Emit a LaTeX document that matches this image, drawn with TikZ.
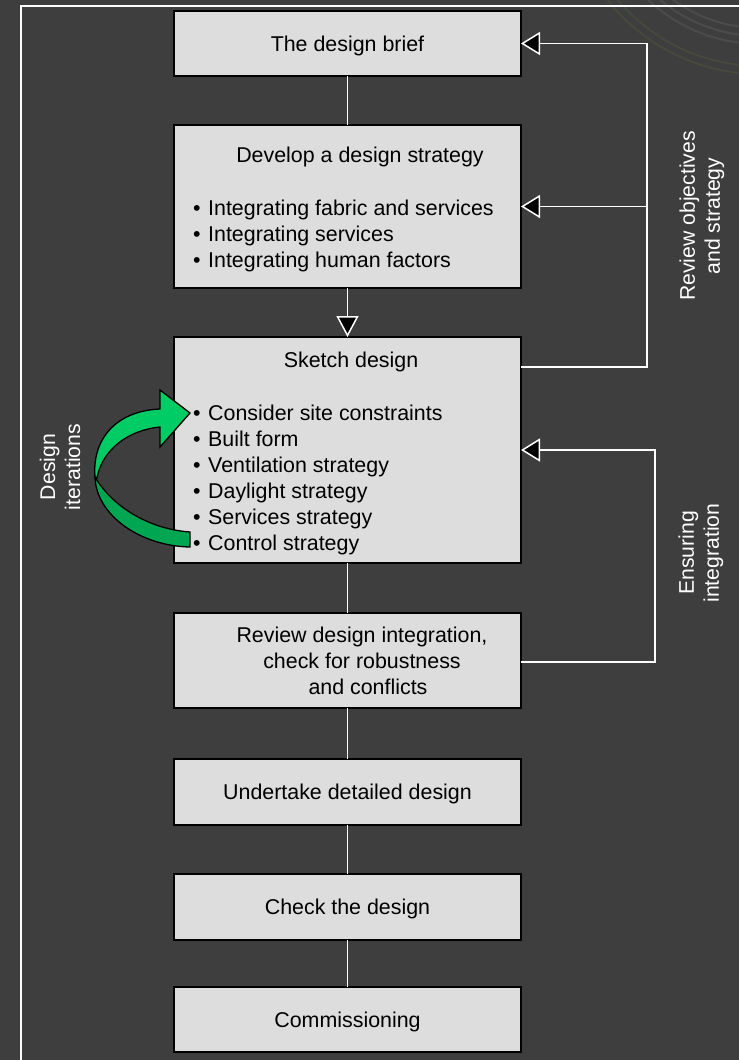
\documentclass[tikz,border=0pt]{standalone}
\usepackage{fontspec}
\setmainfont{Liberation Sans}
\usetikzlibrary{arrows.meta,calc}
\definecolor{bg}{RGB}{62,62,62}
\definecolor{boxfill}{RGB}{221,221,221}
\definecolor{glight}{RGB}{0,204,102}
\definecolor{gdark}{RGB}{0,166,81}
\definecolor{arcgreen}{RGB}{110,140,60}
\newcommand\fsz{\fontsize{21.4}{26}\selectfont}
\newcommand\fszl{\fontsize{21.2}{25}\selectfont}
\begin{document}
\begin{tikzpicture}[x=1pt,y=-1pt,
  box/.style={draw=black,line width=2pt,fill=boxfill,minimum width=347pt,inner sep=0pt,outer sep=0pt,text height=15pt,text depth=0pt,font=\fsz,text=black},
  wline/.style={draw=white,line width=1.5pt},
  tip/.style={-{Triangle[length=19pt,width=23pt,fill=black]}},
  tipdown/.style={-{Triangle[length=21pt,width=22pt,fill=black]}},
  txt/.style={inner sep=0pt,font=\fsz,text=black},
  lbl/.style={inner sep=0pt,font=\fszl,text=white,align=center,rotate=90},
  garrow/.style={draw=black,line width=1.3pt,line join=miter}]
\fill[bg] (0,0) rectangle (739,1060);
\useasboundingbox (0,0) rectangle (739,1060);
% faint decorative arcs
\begin{scope}
  \clip (560,0) rectangle (739,130);
  \foreach \r in {148,156,164} \draw[white,opacity=0.07,line width=2pt] (760,-120) circle[radius=\r pt];
  \foreach \r in {186,194} \draw[arcgreen,opacity=0.18,line width=1.5pt] (760,-120) circle[radius=\r pt];
\end{scope}
% frame
\draw[white,line width=2pt] (21,1061) -- (21,6) -- (740,6);
% boxes
\node[box,minimum height=65pt] (brief) at (347.5,43.5) {The design brief};
\node[box,minimum height=163pt] (develop) at (347.5,206.5) {};
\node[box,minimum height=226pt] (sketch) at (347.5,450) {};
\node[box,minimum height=95pt] (review) at (347.5,660.5) {};
\node[box,minimum height=66pt] (detail) at (347.5,792) {Undertake detailed design};
\node[box,minimum height=66pt] (check) at (347.5,907) {Check the design};
\node[box,minimum height=65pt] (comm) at (347.5,1019.5) {Commissioning};
% box texts
\node[txt,anchor=base] (devt) at (360,162) {Develop a design strategy};
\foreach \t [count=\i] in {Integrating fabric and services,Integrating services,Integrating human factors}
  \node[txt,anchor=base west] (devb\i) at (193,{189+26*\i}) {\makebox[15pt][l]{•}\t};
\node[txt,anchor=base] (skt) at (351,367) {Sketch design};
\foreach \t [count=\i] in {Consider site constraints,Built form,Ventilation strategy,Daylight strategy,Services strategy,Control strategy}
  \node[txt,anchor=base west] (skb\i) at (193,{394+26*\i}) {\makebox[15pt][l]{•}\t};
\node[txt,anchor=base] (rv1) at (362,642) {Review design integration,};
\node[txt,anchor=base] (rv2) at (362,668) {check for robustness};
\node[txt,anchor=base] (rv3) at (368,694) {and conflicts};
% main connectors
\draw[wline] (brief.south) -- (develop.north);
\draw[wline,tipdown] (develop.south) -- (sketch.north);
\draw[wline] (sketch.south) -- (review.north);
\draw[wline] (review.south) -- (detail.north);
\draw[wline] (detail.south) -- (check.north);
\draw[wline] (check.south) -- (comm.north);
% feedback loop 1
\coordinate (r1) at (647,367);
\draw[wline,tip] (r1 -| sketch.east) -- (r1) |- (brief.east);
\draw[wline,tip] (r1 |- develop.east) -- (develop.east);
% feedback loop 2
\coordinate (r2) at (655,662);
\draw[wline,tip] (r2 -| review.east) -- (r2) |- (sketch.east);
% labels
\node[lbl] (lab1) at (702,216) {Review objectives\\and strategy};
\node[lbl] (lab2) at (701,553) {Ensuring\\integration};
\node[lbl] (lab3) at (60,467) {Design\\iterations};
% green curved arrow
\draw[garrow,fill=gdark] (190,532) -- (190,547) .. controls (140,546) and (96,515) .. (95,477)
  .. controls (112,506) and (148,529) .. (190,532) -- cycle;
\draw[garrow,fill=glight] (95,477) .. controls (92,440) and (115,411) .. (160,409)
  -- (160,390) -- (190,413) -- (160,447) -- (160,427)
  .. controls (128,430) and (102,450) .. (97,478) -- cycle;
\end{tikzpicture}
\end{document}
